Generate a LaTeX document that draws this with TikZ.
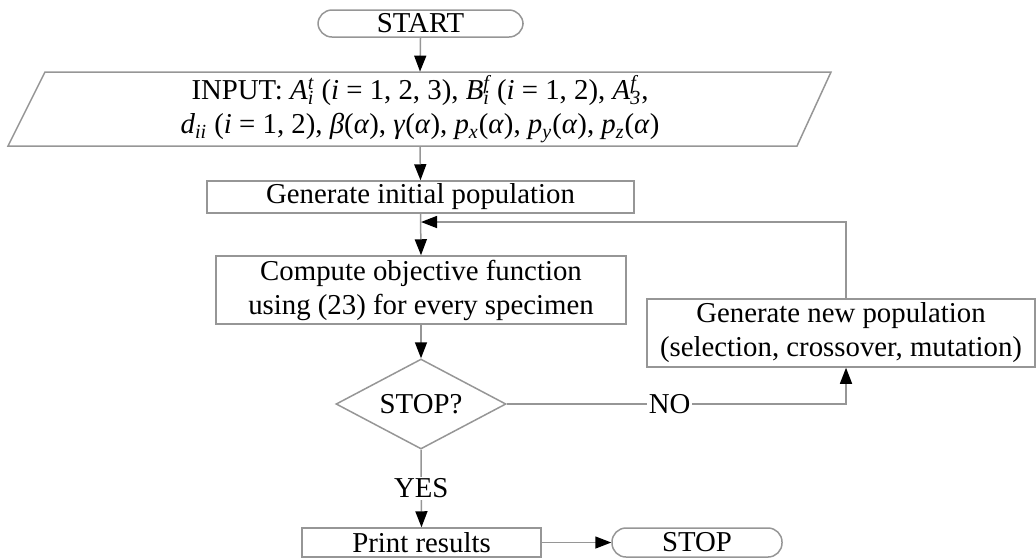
\documentclass[tikz,border=0pt]{standalone}
\usepackage{fontspec}
\setmainfont{Liberation Serif}
\usetikzlibrary{arrows.meta,shapes.geometric}
\newcommand\ssb[2]{\rlap{\textsuperscript{#1}}\textsubscript{#2}}
\definecolor{linegray}{RGB}{150,150,150}
\begin{document}
\begin{tikzpicture}[x=0.5pt,y=-0.5pt,
  every node/.style={font=\fontsize{14.4}{17}\selectfont, text=black},
  boxstyle/.style={draw=linegray, line width=0.75pt, rectangle, inner sep=0pt, align=center},
  termstyle/.style={draw=linegray, line width=0.75pt, rectangle, rounded corners=7pt, inner sep=0pt},
  decstyle/.style={draw=linegray, line width=0.75pt, diamond, aspect=1.89, inner sep=0pt},
  conn/.style={draw=linegray, line width=0.75pt},
  arr/.style={conn, -{Triangle[length=8pt,width=6pt,color=black]}},
  lbl/.style={fill=white, inner sep=1pt}]
\useasboundingbox (0,0) rectangle (1036,559);
\node[termstyle, minimum width=102.5pt, minimum height=13.5pt] (start) at (420.5,23.5) {START};
\draw[linegray, line width=0.75pt] (45,72) -- (831,72) -- (797,146) -- (8,146) -- cycle;
\node[inner sep=0pt, minimum height=37pt, align=center] (input) at (420,109)
  {INPUT: \textit{A}\ssb{\textit{t}}{\textit{i}} (\textit{i} = 1, 2, 3), \textit{B}\ssb{\textit{f}}{\textit{i}} (\textit{i} = 1, 2), \textit{A}\ssb{\textit{f}}{\textit{3}},\\
   \textit{d}\textsubscript{\textit{ii}} (\textit{i} = 1, 2), \textit{β}(\textit{α}), \textit{γ}(\textit{α}), \textit{p}\textsubscript{\textit{x}}(\textit{α}), \textit{p}\textsubscript{\textit{y}}(\textit{α}), \textit{p}\textsubscript{\textit{z}}(\textit{α})};
\node[boxstyle, minimum width=213.5pt, minimum height=16pt] (init) at (420.5,197) {Generate initial population};
\node[boxstyle, minimum width=205pt, minimum height=34pt] (comp) at (421,290) {Compute objective function\\using (23) for every specimen};
\node[boxstyle, minimum width=194pt, minimum height=34pt] (newp) at (841,333) {Generate new population\\(selection, crossover, mutation)};
\node[decstyle, minimum width=85pt, minimum height=45pt] (dec) at (421,404) {STOP?};
\node[boxstyle, minimum width=119.5pt, minimum height=14.5pt] (print) at (421.5,542.5) {Print results};
\node[termstyle, minimum width=85pt, minimum height=14.5pt] (stop) at (697,542.5) {STOP};
\coordinate (loopend) at (421,222);
\draw[arr] (start.south) -- (input.north);
\draw[arr] (input.south) -- (init.north);
\draw[arr] (init.south) -- (comp.north);
\draw[arr] (comp.south) -- (dec.north);
\draw[arr] (dec.east) -| node[lbl, pos=0.24] {NO} ([xshift=2.5pt]newp.south);
\draw[arr] ([xshift=2.5pt]newp.north) |- (loopend);
\draw[arr] (dec.south) -- node[lbl] {YES} (print.north);
\draw[arr] (print.east) -- (stop.west);
\end{tikzpicture}
\end{document}
